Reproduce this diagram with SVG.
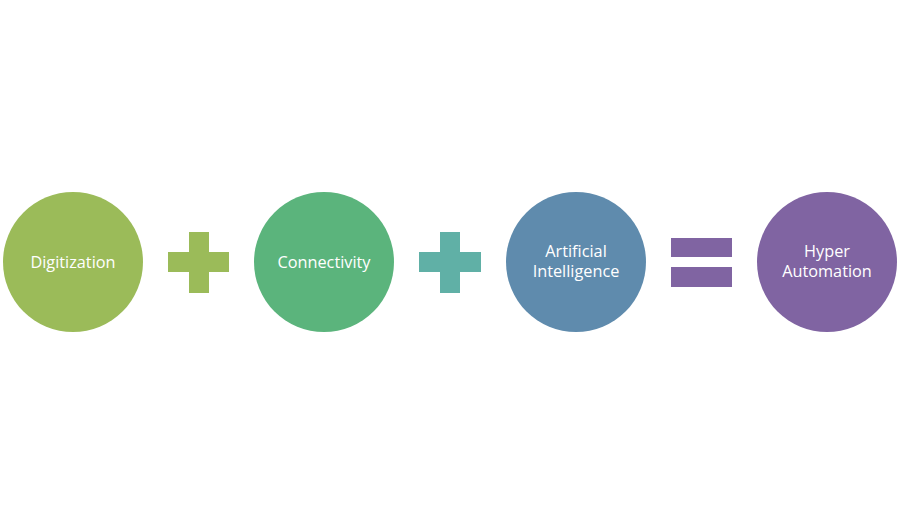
<svg xmlns="http://www.w3.org/2000/svg" width="899" height="525" viewBox="0 0 899 525">
<style>
text{font-family:"Open Sans","Liberation Sans",sans-serif;font-size:16.3px;fill:#ffffff;text-anchor:middle}
</style>
<rect width="899" height="525" fill="#ffffff"/>
<g id="digitization"><circle cx="73" cy="262" r="70" fill="#9BBB59"/><text x="73" y="268">Digitization</text></g>
<g id="plus1" fill="#9BBB59"><rect x="168" y="252" width="61" height="20"/><rect x="189" y="232" width="20" height="61"/></g>
<g id="connectivity"><circle cx="324" cy="262" r="70" fill="#5BB47C"/><text x="324" y="268">Connectivity</text></g>
<g id="plus2" fill="#60B0A6"><rect x="419" y="252" width="62" height="20"/><rect x="440" y="232" width="20" height="61"/></g>
<g id="ai"><circle cx="576" cy="262" r="70" fill="#5F8BAD"/><text x="576" y="257">Artificial</text><text x="576" y="277">Intelligence</text></g>
<g id="equals" fill="#8064A2"><rect x="671" y="238" width="61" height="19"/><rect x="671" y="267" width="61" height="20"/></g>
<g id="hyper"><circle cx="827" cy="262" r="70" fill="#8064A2"/><text x="827" y="257">Hyper</text><text x="827" y="277">Automation</text></g>
<g id="connectors"/>
</svg>
